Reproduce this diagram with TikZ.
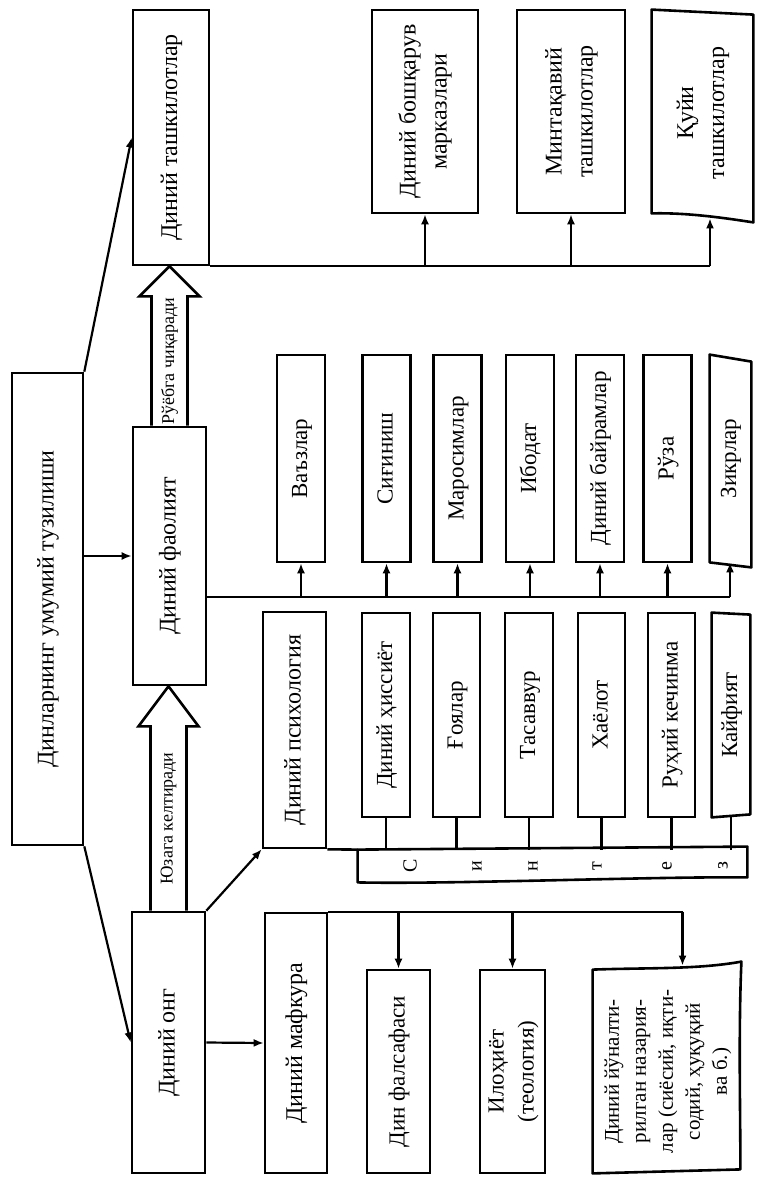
\documentclass[tikz,border=0pt]{standalone}
\usepackage{fontspec}
\setmainfont{Liberation Serif}
\usetikzlibrary{arrows.meta,calc}
\newcommand{\rtxt}[1]{\rotatebox{90}{\begin{tabular}{@{}c@{}}#1\end{tabular}}}
\tikzset{
  box/.style={draw,line width=1.3pt,inner sep=0pt,font=\fontsize{12}{15.5}\selectfont},
  sbox/.style={box,font=\fontsize{11.5}{15}\selectfont},
  ghost/.style={inner sep=0pt,font=\fontsize{11.5}{15}\selectfont},
  outl/.style={line width=1.3pt,line join=round},
  conn/.style={line width=1.1pt},
  arr/.style={line width=1.1pt,-{Latex[length=5pt,width=4pt]}},
  hollow/.style={line width=1.3pt,line join=miter},
  lbl/.style={inner sep=0pt,font=\fontsize{9}{11}\selectfont},
  letter/.style={inner sep=0pt,font=\fontsize{10}{12}\selectfont},
  wh/.style 2 args={minimum width=#1*0.5pt,minimum height=#2*0.5pt}
}
\begin{document}
\begin{tikzpicture}[x=0.5pt,y=-0.5pt]
\fill[white] (0,0) rectangle (756,1177);
\useasboundingbox (0,0) rectangle (756,1177);

% main column
\node[box,wh={71}{472}] (main) at (47.5,609) {\rtxt{Динларнинг умумий тузилиши}};
\node[box,wh={76}{255}] (org) at (171,137.5) {\rtxt{Диний ташкилотлар}};
\node[box,wh={73}{258}] (act) at (169.5,556) {\rtxt{Диний фаолият}};
\node[box,wh={73}{261}] (cons) at (168.5,1042.5) {\rtxt{Диний онг}};
\node[box,wh={63}{236}] (psy) at (294.5,730) {\rtxt{Диний психология}};
\node[box,wh={62}{260}] (ideo) at (296,1043) {\rtxt{Диний мафкура}};

% organisations
\node[box,wh={106}{203}] (gov) at (425,111.5) {\rtxt{Диний бошқарув\\марказлари}};
\node[box,wh={108}{203}] (reg) at (571,111.5) {\rtxt{Минтақавий\\ташкилотлар}};
\node[ghost,font=\fontsize{12}{15.5}\selectfont,wh={101}{206}] (low) at (702.5,113) {\rtxt{Қуйи\\ташкилотлар}};
\draw[outl] (low.north west) -- ($(low.north east)+(0,5)$) -- ($(low.south east)+(0,6)$)
  .. controls ($(low.south)+(25,2)$) and ($(low.south)+(-15,-4)$) .. ($(low.south west)+(0,-3)$) -- cycle;
\coordinate (ob) at (org.south east);
\draw[conn] (ob) -- ($(ob -| low.south)+(7.5,0)$);
\draw[arr] (ob -| gov.south) -- (gov.south);
\draw[arr] (ob -| reg.south) -- (reg.south);
\draw[arr] ($(ob -| low.south)+(7.5,0)$) -- ($(low.south)+(7.5,2)$);

% activities
\node[sbox,wh={48}{207}] (a1) at (301,458.5) {\rtxt{Ваъзлар}};
\node[sbox,wh={48}{207}] (a2) at (386.5,458.5) {\rtxt{Сиғиниш}};
\node[sbox,wh={48}{207}] (a3) at (457.5,458.5) {\rtxt{Маросимлар}};
\node[sbox,wh={48}{207}] (a4) at (530,458.5) {\rtxt{Ибодат}};
\node[sbox,wh={48}{207}] (a5) at (600,458.5) {\rtxt{Диний байрамлар}};
\node[sbox,wh={48}{207}] (a6) at (667.5,458.5) {\rtxt{Рўза}};
\node[ghost,wh={40}{207}] (a7) at (730,458.5) {\rtxt{Зикрлар}};
\draw[outl] (a7.north west) -- ($(a7.north east)+(1,7)$) -- ($(a7.south east)+(1,5)$) -- (a7.south west) -- cycle;
\coordinate (ab) at ($(act.east)+(0,41)$);
\draw[conn] (ab) -- (ab -| a7.south);
\foreach \n in {a1,a2,a3,a4,a5,a6,a7}{\draw[arr] (ab -| \n.south) -- (\n.south);}

% psychology
\node[sbox,wh={48}{204}] (p1) at (386,715) {\rtxt{Диний ҳиссиёт}};
\node[sbox,wh={47}{204}] (p2) at (456.5,715) {\rtxt{Ғоялар}};
\node[sbox,wh={48}{204}] (p3) at (529,715) {\rtxt{Тасаввур}};
\node[sbox,wh={47}{204}] (p4) at (601.5,715) {\rtxt{Хаёлот}};
\node[sbox,wh={47}{204}] (p5) at (671.5,715) {\rtxt{Руҳий кечинма}};
\node[ghost,wh={38}{204}] (p6) at (731,715) {\rtxt{Кайфият}};
\draw[outl] (p6.north west) -- ($(p6.north east)+(0,2)$) -- ($(p6.south east)+(0,-3)$) -- (p6.south west) -- cycle;
\node[ghost,wh={389}{32}] (syn) at (552.5,866) {};
\draw[outl] (syn.north west) -- ($(syn.north east)+(0,-3)$) -- ($(syn.south east)+(0,-5)$)
  .. controls ($(syn.south)+(100,-6)$) and ($(syn.south)+(-100,2)$) .. (syn.south west) -- cycle;
\draw[outl] (psy.south east) -- (syn.north west);
\node[letter] (s1) at (410,866) {\rotatebox{90}{С}};
\node[letter] (s2) at (477,866) {\rotatebox{90}{и}};
\node[letter] (s3) at (533,866) {\rotatebox{90}{н}};
\node[letter] (s4) at (597,866) {\rotatebox{90}{т}};
\node[letter] (s5) at (667,866) {\rotatebox{90}{е}};
\node[letter] (s6) at (723,866) {\rotatebox{90}{з}};
\foreach \n in {p1,p2,p3,p4,p5,p6}{\draw[conn] (\n.south) -- (\n.south |- syn.north);}

% ideology
\node[sbox,wh={63}{203}] (i1) at (398.5,1071.5) {\rtxt{Дин фалсафаси}};
\node[sbox,wh={65}{203}] (i2) at (512.5,1071.5) {\rtxt{Илоҳиёт\\(теология)}};
\node[ghost,font=\fontsize{10.5}{13.5}\selectfont,wh={149}{203}] (i3) at (667.5,1071.5)
  {\rtxt{Диний йўналти-\\рилган назария-\\лар (сиёсий, иқти-\\содий, ҳуқуқий\\ва б.)}};
\draw[outl] (i3.south west) -- (i3.north west)
  .. controls ($(i3.north)+(-20,-2)$) and ($(i3.north)+(30,0)$) .. ($(i3.north east)+(-1,-8)$)
  .. controls ($(i3.east)+(-4,-40)$) and ($(i3.east)+(-2,40)$) .. ($(i3.south east)+(-2,-4)$) -- cycle;
\coordinate (ib) at (ideo.north east);
\draw[conn] (ib) -- ($(ib -| i3.north)+(15,0)$);
\draw[arr] (ib -| i1.north) -- (i1.north);
\draw[arr] (ib -| i2.north) -- (i2.north);
\draw[arr] ($(ib -| i3.north)+(15,0)$) -- ($(i3.north)+(15,-4)$);

% hollow arrows
\coordinate (t1) at (act.north |- org.south);
\coordinate (h1) at ($(t1)+(0,30)$);
\draw[hollow] ($(act.north)+(-18,0)$) -- ($(h1)+(-18,0)$) -- ($(h1)+(-30,0)$) -- (t1)
  -- ($(h1)+(30,0)$) -- ($(h1)+(18,0)$) -- ($(act.north)+(18,0)$);
\node[lbl] (l1) at ($(act.north)!0.5!(h1)$) {\rotatebox{90}{Рўёбга чиқаради}};
\coordinate (t2) at (cons.north |- act.south);
\coordinate (h2) at ($(t2)+(0,40)$);
\draw[hollow] ($(cons.north)+(-18,0)$) -- ($(h2)+(-18,0)$) -- ($(h2)+(-30,0)$) -- (t2)
  -- ($(h2)+(30,0)$) -- ($(h2)+(18,0)$) -- ($(cons.north)+(18,0)$);
\node[lbl] (l2) at ($(cons.north)!0.5!(h2)$) {\rotatebox{90}{Юзага келтиради}};

% arrows from main
\draw[arr] (main.north east) -- (org.west);
\draw[arr] (main.east |- act.west) -- (act.west);
\draw[arr] (main.south east) -- (cons.west);
\draw[arr] (cons.north east) -- (psy.south west);
\draw[arr] (cons.east) -- (ideo.west);
\end{tikzpicture}
\end{document}
